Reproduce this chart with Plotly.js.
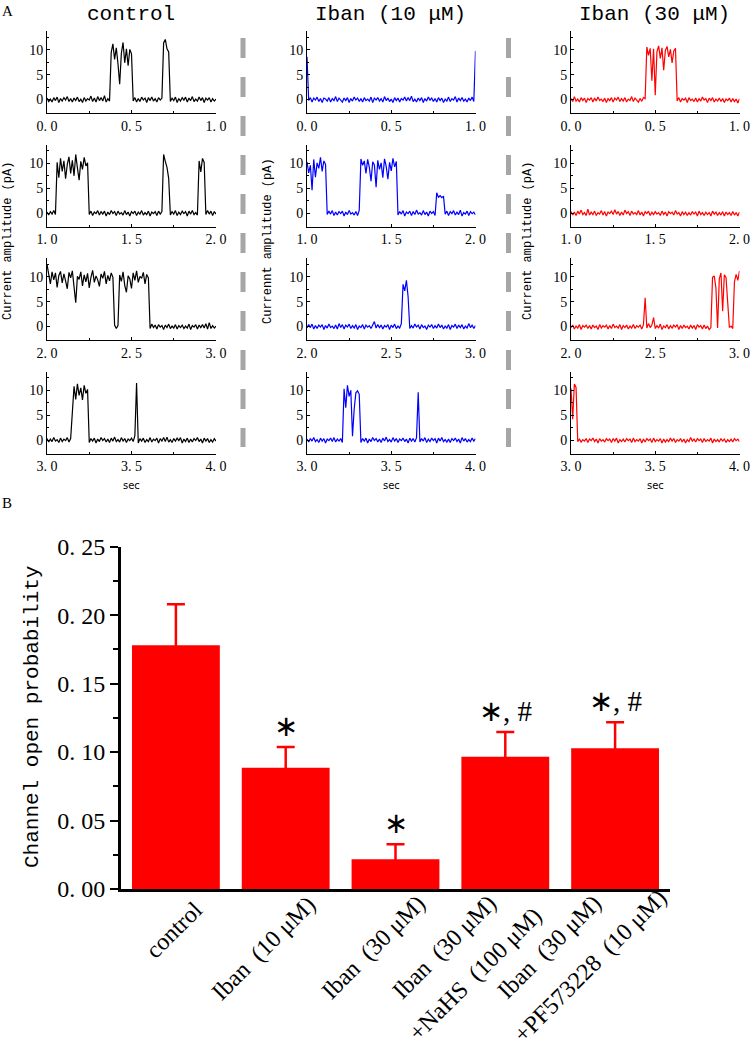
<!DOCTYPE html>
<html><head><meta charset="utf-8">
<script src="https://cdn.plot.ly/plotly-3.0.1.min.js"></script>
<style>html,body{margin:0;padding:0;background:#fff}</style>
</head><body><div id="chart" style="width:750px;height:1050px"></div>
<script>
// ---------- Panel A: single-channel traces, 0.01 s per sample, 1 s per row ----------
const ctrlRow1 = [0.3,-0.4,0.1,-0.5,0.4,-0.2,0.5,-0.6,0.2,-0.3,0.4,-0.1,0.6,-0.4,0.2,-0.5,0.3,-0.2,0.5,-0.4,0.1,-0.6,0.4,-0.3,0.2,-0.1,0.7,-0.4,0.3,-0.5,0.6,-0.2,0.4,-0.3,0.8,-0.5,0.2,-0.3,
 9.5,11.2,8.1,10.4,7.2,3.1,9.3,11.5,7.4,10.2,6.8,10.1,9.2,
 -0.3,0.4,-0.5,0.2,-0.4,0.5,-0.1,0.3,-0.6,0.4,-0.2,0.5,-0.3,0.2,-0.5,0.4,-0.1,0.3,
 11.4,12.1,10.2,9.6,
 -0.4,0.3,-0.2,0.5,-0.6,0.2,-0.3,0.4,-0.1,0.5,-0.5,0.3,-0.2,0.6,-0.4,0.1,-0.3,0.5,-0.2,0.4,-0.6,0.3,-0.1,0.4,-0.5,0.2,-0.3,0.1];
const ctrlRow2 = [0.2,-0.4,0.3,-0.2,0.5,-0.3,
 10.2,7.1,11.0,8.4,10.5,6.9,9.8,11.3,8.0,10.6,7.5,11.8,9.1,6.6,10.4,8.8,11.2,9.5,10.1,
 -0.3,0.4,-0.5,0.2,-0.1,0.5,-0.4,0.3,-0.2,0.4,-0.6,0.2,-0.3,0.5,-0.1,0.3,-0.5,0.4,-0.2,0.1,-0.4,0.5,-0.3,0.2,-0.6,0.3,-0.1,0.4,-0.5,0.2,-0.2,0.5,-0.4,0.1,-0.3,0.4,-0.6,0.2,-0.1,0.3,-0.5,0.4,-0.2,0.3,
 11.8,10.4,9.2,7.0,
 -0.4,0.3,-0.2,0.5,-0.5,0.2,-0.3,0.4,-0.1,0.3,-0.6,0.4,-0.2,0.5,-0.3,0.1,-0.4,
 10.5,8.3,11.0,10.2,
 -0.3,0.5,-0.2,0.4,-0.5,0.3,-0.2];
const ctrlRow3 = [12.5,10.2,8.6,11.0,9.4,10.8,7.9,10.3,11.1,8.8,10.6,9.2,7.6,10.9,9.8,11.2,8.4,4.8,10.1,9.5,11.0,8.2,10.4,9.0,10.7,7.8,9.9,11.3,8.9,10.2,9.4,8.1,10.6,9.7,11.1,8.6,10.3,9.2,10.8,9.9,
 0.3,-0.4,0.2,
 10.4,9.1,11.0,8.3,6.9,10.2,9.6,7.7,10.8,9.3,11.2,8.9,10.1,9.7,10.9,8.6,10.5,9.8,
 -0.4,0.5,-0.2,0.3,-0.5,0.4,-0.1,0.2,-0.6,0.3,-0.2,0.5,-0.4,0.1,-0.3,0.4,-0.5,0.2,-0.2,0.3,-0.4,0.1,-0.3,0.5,-0.6,0.2,-0.1,0.4,-0.5,0.3,-0.2,0.4,-0.3,0.6,-0.5,0.8,-0.4,0.2,-0.3,0.1];
const ctrlRow4 = [0.3,-0.4,0.2,-0.3,0.5,-0.2,0.1,-0.5,0.4,-0.3,0.2,-0.1,0.5,-0.4,0.3,
 7.0,10.8,8.2,11.3,9.0,10.5,8.1,11.0,9.4,10.2,
 -0.5,0.3,-0.2,0.4,-0.6,0.2,-0.3,0.5,-0.1,0.3,-0.4,0.2,-0.5,0.4,-0.2,0.6,-0.3,0.1,-0.4,0.5,-0.2,0.3,-0.5,0.2,-0.1,0.4,-0.3,0.9,
 11.5,
 -0.6,0.3,-0.2,0.4,-0.5,0.1,-0.3,0.5,-0.4,0.2,-0.1,0.4,-0.6,0.3,-0.2,0.5,-0.3,0.6,-0.4,0.1,-0.5,0.3,-0.2,0.4,-0.1,0.5,-0.6,0.2,-0.3,0.4,-0.5,0.2,-0.4,0.3,-0.1,0.5,-0.3,0.2,-0.6,0.4,-0.2,0.3,-0.5,0.1,-0.4,0.3,-0.2];

const ibn10Row1 = [8.6,
 -0.2,0.4,-0.5,0.3,-0.1,0.5,-0.4,0.2,-0.6,0.3,0.1,-0.3,0.4,-0.5,0.2,-0.2,0.6,-0.4,0.3,-0.1,-0.5,0.3,-0.2,0.4,-0.6,0.2,-0.3,0.5,-0.1,0.3,-0.4,0.2,-0.5,0.4,-0.2,0.1,-0.3,0.5,-0.6,0.3,-0.1,0.4,-0.3,0.2,-0.5,0.6,-0.2,0.3,-0.4,0.1,-0.6,0.4,-0.2,0.3,-0.5,0.2,-0.1,0.5,-0.3,0.4,-0.2,0.7,-0.4,0.1,-0.5,0.3,-0.2,0.4,-0.6,0.2,-0.3,0.5,-0.1,0.3,-0.4,0.2,-0.5,0.4,-0.2,0.3,-0.6,0.1,-0.3,0.5,-0.4,0.2,-0.1,0.6,-0.5,0.3,-0.2,0.4,-0.3,0.1,-0.5,0.3,-0.2,0.5,-0.4,
 9.8];
const ibn10Row2 = [10.3,8.1,9.6,4.6,10.8,7.2,10.1,9.0,11.2,8.4,10.5,9.8,
 -0.3,0.4,-0.2,0.5,-0.5,0.2,-0.4,0.3,-0.1,0.4,-0.6,0.2,-0.3,0.5,-0.2,0.1,-0.4,0.3,-0.5,0.6,
 10.9,9.6,10.5,8.0,10.8,9.2,6.4,10.3,9.7,5.2,10.6,8.8,10.1,7.1,10.9,9.4,6.8,10.2,8.5,11.0,9.3,10.4,
 -0.4,0.3,-0.2,0.5,-0.6,0.2,-0.1,0.4,-0.5,0.3,-0.3,0.6,-0.2,0.1,-0.4,0.5,-0.3,0.2,-0.6,0.4,-0.1,0.3,-0.5,
 4.1,3.2,3.5,3.1,3.4,
 -0.2,0.4,-0.5,0.3,-0.1,0.5,-0.4,0.2,-0.3,0.6,-0.6,0.1,-0.2,0.4,-0.5,0.3,-0.1,0.2,-0.4];
const ibn10Row3 = [-0.3,0.4,-0.2,0.5,-0.5,0.2,-0.4,0.3,-0.1,0.4,-0.6,0.2,-0.3,0.5,-0.2,0.1,-0.4,0.3,-0.5,0.6,-0.2,0.4,-0.5,0.3,-0.1,0.5,-0.4,0.2,-0.3,0.4,-0.6,0.1,-0.2,0.4,-0.5,0.3,-0.1,0.2,-0.4,0.5,1.0,-0.3,0.4,-0.2,0.3,-0.5,0.2,-0.1,0.4,-0.6,0.3,-0.2,0.5,-0.4,0.1,-0.3,0.6,
 8.5,7.2,9.3,6.0,
 -0.4,0.2,-0.3,0.5,-0.1,0.3,-0.5,0.4,-0.2,0.1,-0.6,0.3,-0.1,0.4,-0.4,0.2,-0.3,0.5,-0.2,0.3,-0.5,0.1,-0.3,0.4,-0.6,0.2,-0.1,0.5,-0.4,0.3,-0.2,0.4,-0.5,0.1,-0.3,0.6,-0.2,0.3,-0.4,0.2];
const ibn10Row4 = [0.2,-0.4,0.3,-0.2,0.5,-0.3,0.1,-0.5,0.4,-0.2,0.3,-0.6,0.2,-0.1,0.4,-0.3,0.5,-0.4,0.2,-0.2,0.3,-0.5,
 10.3,6.5,11.0,8.8,10.0,0.8,6.2,9.5,9.9,9.2,
 -0.5,0.3,-0.2,0.4,-0.6,0.2,-0.3,0.5,-0.1,0.3,-0.4,0.2,-0.5,0.4,-0.2,0.6,-0.3,0.1,-0.4,0.5,-0.2,0.3,-0.5,0.2,-0.1,0.4,-0.3,0.2,-0.6,0.4,-0.2,0.3,-0.4,0.5,
 9.6,
 -0.4,0.3,-0.2,0.5,-0.5,0.2,-0.3,0.4,-0.1,0.3,-0.6,0.4,-0.2,0.5,-0.3,0.1,-0.4,0.2,-0.5,0.3,-0.1,0.4,-0.3,0.2,-0.6,0.5,-0.2,0.3,-0.4,0.1,-0.3,0.4,-0.2,0.3];

const ibn30Row1 = [0.2,-0.4,0.6,-0.3,0.1,-0.5,0.4,-0.2,0.3,-0.6,0.2,-0.1,0.4,-0.5,0.3,-0.3,0.5,-0.2,0.1,-0.4,0.3,-0.6,0.2,-0.2,0.4,-0.5,0.3,-0.1,0.5,-0.4,0.2,-0.3,0.4,-0.5,0.1,-0.2,0.6,-0.4,0.3,-0.1,-0.5,0.2,-0.3,0.4,0.2,
 10.6,8.9,10.3,3.8,10.2,0.9,9.6,10.8,8.3,10.4,5.9,9.9,10.7,8.6,10.1,7.4,9.8,10.3,
 -0.3,0.4,-0.5,0.2,-0.1,0.3,-0.6,0.4,-0.2,0.1,-0.4,0.3,-0.5,0.2,-0.3,0.5,-0.1,0.2,-0.6,0.3,-0.2,0.4,-0.5,0.1,-0.3,0.3,-0.4,0.2,-0.6,0.1,-0.2,0.3,-0.5,0.2,-0.4,0.1,-0.7,0.2];
const ibn30Row2 = [0.3,-0.4,0.2,-0.5,0.4,-0.2,0.6,-0.3,0.1,-0.5,0.8,-0.4,0.2,-0.3,0.4,-0.5,0.1,-0.2,0.5,-0.4,0.3,-0.6,0.2,-0.1,0.4,-0.3,0.7,-0.2,0.3,-0.5,0.2,-0.4,0.6,-0.1,0.3,-0.5,0.4,-0.2,0.1,-0.3,0.5,-0.4,0.2,-0.6,0.3,-0.1,0.4,-0.5,0.2,-0.3,0.3,-0.2,0.1,-0.5,0.4,-0.3,0.2,-0.6,0.3,-0.1,0.2,-0.4,0.5,-0.2,0.1,-0.6,0.3,-0.3,0.2,-0.5,0.1,-0.4,0.3,-0.2,0.2,-0.6,0.4,-0.3,0.1,-0.5,0.2,-0.3,0.1,-0.6,0.4,-0.2,0.2,-0.5,0.1,-0.4,0.3,-0.6,0.2,-0.3,0.1,-0.5,0.3,-0.4,0.1,-0.6,0.2];
const ibn30Row3 = [-0.2,0.3,-0.5,0.1,-0.3,0.4,-0.6,0.2,-0.1,0.3,-0.4,0.2,-0.5,0.3,-0.2,0.1,-0.6,0.4,-0.3,0.2,-0.1,0.3,-0.5,0.2,-0.4,0.5,-0.2,0.1,-0.3,0.4,-0.6,0.2,-0.2,0.3,-0.5,0.1,-0.3,0.4,-0.4,0.2,-0.1,0.3,-0.5,0.4,
 5.8,
 -0.3,0.6,-0.2,0.3,
 1.8,
 -0.4,0.2,-0.3,0.5,-0.6,0.1,-0.2,0.4,-0.5,0.2,-0.3,0.3,-0.1,0.4,-0.6,0.2,-0.4,0.3,-0.2,0.1,-0.5,0.3,-0.3,0.2,-0.6,0.4,-0.1,0.2,-0.5,0.3,-0.4,0.1,-0.6,-0.2,
 9.9,10.2,7.8,-0.3,9.6,10.8,3.1,10.4,9.9,4.6,-0.2,0.1,-0.4,9.0,10.5,9.3,11.2];
const ibn30Row4 = [10.4,4.2,11.3,10.6,
 -0.3,0.2,-0.4,0.1,-0.2,0.3,-0.5,0.2,-0.1,0.4,-0.3,0.2,-0.6,0.3,-0.2,0.1,-0.4,0.3,-0.1,0.2,-0.5,0.3,-0.2,0.4,-0.6,0.1,-0.3,0.2,-0.4,0.3,-0.1,0.2,-0.5,0.4,-0.3,0.1,-0.2,0.3,-0.6,0.2,-0.4,0.3,-0.1,0.2,-0.5,0.4,-0.3,0.1,-0.2,0.3,-0.6,0.2,-0.4,0.1,-0.3,0.4,-0.2,0.3,-0.5,0.1,-0.2,0.3,-0.4,0.2,-0.6,0.1,-0.3,0.5,-0.2,0.2,-0.4,0.3,-0.1,0.2,-0.5,0.3,-0.3,0.1,-0.2,0.4,-0.6,0.2,-0.3,0.1,-0.4,0.3,-0.2,0.2,-0.5,0.1,-0.3,0.2,-0.4,0.3,-0.1,0.2,-0.3];

const panelTitles = ['control', 'Iban (10 μM)', 'Iban (30 μM)'];
const ampTitles = ['Current amplitude (pA)', 'Currennt amplitude (pA)', 'Current amplitude (pA)'];
const timeLabel = 'sec';
const ampTicks = [0, 5, 10];

// ---------- Panel B: channel open probability ----------
const conditionLines = [
  ['control'],
  ['Iban\u2002(10 μM)'],
  ['Iban\u2002(30 μM)'],
  ['Iban\u2002(30 μM)', '+NaHS\u2002(100 μM)'],
  ['Iban\u2002(30 μM)', '+PF573228\u2002(10 μM)']];
const openProb = [0.178, 0.0886, 0.0217, 0.0966, 0.1028];
const openProbSem = [0.030, 0.0151, 0.011, 0.0181, 0.019];
const sigMarks = ['', '∗', '∗', '∗, #', '∗, #'];
const probTicks = [0, 0.05, 0.10, 0.15, 0.20, 0.25];
const probTickText = ['0. 00', '0. 05', '0. 10', '0. 15', '0. 20', '0. 25'];
const probMinor = [0.025, 0.075, 0.125, 0.175, 0.225];
const conditions = conditionLines.map(l => l.join(' '));

// ---------- layout helpers ----------
const W = 750, H = 1050;
const fx = p => p / W, fy = p => 1 - p / H;
const colX = [[47, 216], [307, 475.5], [571, 739.5]];
const rowY = [[31, 113], [144.5, 226.5], [258, 340], [371.5, 453.5]];
const colColors = ['#000000', '#0000ff', '#ff0000'];
const traceRows = [[ctrlRow1, ctrlRow2, ctrlRow3, ctrlRow4],
                   [ibn10Row1, ibn10Row2, ibn10Row3, ibn10Row4],
                   [ibn30Row1, ibn30Row2, ibn30Row3, ibn30Row4]];
const tickFont = {family: 'Liberation Serif', size: 14, color: '#000'};
// offsets (px) of each rotated label line centre from its bar centre / the axis line
const labelOffsets = [[[-2, 41]], [[-22, 59]], [[-22, 58]], [[-61, 58], [-30, 85]], [[-66, 58], [-25, 77]]];

const data = [];
const layout = {
  width: W, height: H, margin: {l: 0, r: 0, t: 0, b: 0},
  paper_bgcolor: '#fff', plot_bgcolor: 'rgba(0,0,0,0)', showlegend: false,
  bargap: 0.2, annotations: [], shapes: []
};

for (let c = 0; c < 3; c++) {
  for (let r = 0; r < 4; r++) {
    const n = c * 4 + r + 1;
    data.push({type: 'scatter', mode: 'lines', x0: r, dx: 0.01, y: traceRows[c][r],
      xaxis: 'x' + n, yaxis: 'y' + n, line: {color: colColors[c], width: 1.2}, hoverinfo: 'skip'});
    const xt = [r, r + 0.5, r + 1];
    layout['xaxis' + n] = {
      domain: [fx(colX[c][0]), fx(colX[c][1])], anchor: 'y' + n, range: [r, r + 1],
      tickmode: 'array', tickvals: xt, ticktext: xt.map(v => v.toFixed(1).replace('.', '. ')),
      showline: true, linecolor: '#000', linewidth: 1, ticks: 'inside', ticklen: 3, tickcolor: '#000',
      minor: {tickmode: 'array', tickvals: [r + 0.25, r + 0.75], ticks: 'inside', ticklen: 2, tickcolor: '#000'},
      showgrid: false, zeroline: false, tickfont: tickFont, fixedrange: true
    };
    layout['yaxis' + n] = {
      domain: [fy(rowY[r][1]), fy(rowY[r][0])], anchor: 'x' + n, range: [-2.7, 13.8],
      tickmode: 'array', tickvals: ampTicks, ticktext: ampTicks.map(String),
      showline: true, linecolor: '#000', linewidth: 1, ticks: 'inside', ticklen: 3, tickcolor: '#000',
      minor: {tickmode: 'array', tickvals: [-2.5, 2.5, 7.5, 12.5], ticks: 'inside', ticklen: 2, tickcolor: '#000'},
      showgrid: false, zeroline: false, tickfont: tickFont, fixedrange: true
    };
  }
  layout.annotations.push({text: panelTitles[c], xref: 'paper', yref: 'paper',
    x: fx((colX[c][0] + colX[c][1]) / 2 - 1), y: fy(15), xanchor: 'center', yanchor: 'middle',
    showarrow: false, font: {family: 'Liberation Mono', size: 21, color: '#000'}});
  layout.annotations.push({text: ampTitles[c], xref: 'paper', yref: 'paper',
    x: fx([8, 268, 528][c]), y: fy(241), xanchor: 'center', yanchor: 'middle', textangle: -90,
    showarrow: false, font: {family: 'Liberation Mono', size: 12, color: '#000'}});
  layout.annotations.push({text: timeLabel, xref: 'paper', yref: 'paper',
    x: fx([131, 391, 655][c]), y: fy(485), xanchor: 'center', yanchor: 'middle',
    showarrow: false, font: {family: 'DejaVu Sans', size: 10, color: '#000'}});
}

// dashed separators
[243, 508.5].forEach(xp => layout.shapes.push({type: 'line', xref: 'paper', yref: 'paper',
  x0: fx(xp), x1: fx(xp), y0: fy(38), y1: fy(447),
  line: {color: '#a6a6a6', width: 5, dash: '20px,19px'}}));

// panel letters
layout.annotations.push({text: 'A', xref: 'paper', yref: 'paper', x: fx(7), y: fy(11),
  xanchor: 'center', yanchor: 'middle', showarrow: false, font: {family: 'Liberation Serif', size: 15, color: '#000'}});
layout.annotations.push({text: 'B', xref: 'paper', yref: 'paper', x: fx(7), y: fy(503),
  xanchor: 'center', yanchor: 'middle', showarrow: false, font: {family: 'Liberation Serif', size: 15, color: '#000'}});

// bar chart
data.push({type: 'bar', x: conditions, y: openProb, xaxis: 'x13', yaxis: 'y13',
  marker: {color: '#ff0000'}, hoverinfo: 'skip',
  error_y: {type: 'data', array: openProbSem, visible: true, color: '#ff0000', thickness: 2.5, width: 9}});
layout.xaxis13 = {domain: [fx(121), fx(670)], anchor: 'y13', type: 'category', range: [-0.5, 4.5],
  showline: true, linecolor: '#000', linewidth: 3, ticks: '', showticklabels: false,
  showgrid: false, zeroline: false, fixedrange: true};
layout.yaxis13 = {domain: [fy(889), fy(546.7)], anchor: 'x13', range: [0, 0.25],
  tickmode: 'array', tickvals: probTicks, ticktext: probTickText,
  showline: true, linecolor: '#000', linewidth: 3, ticks: 'outside', ticklen: 8, tickwidth: 2, tickcolor: '#000',
  minor: {tickmode: 'array', tickvals: probMinor, ticks: 'outside', ticklen: 5, tickwidth: 2, tickcolor: '#000'},
  showgrid: false, zeroline: false, tickfont: {family: 'Liberation Serif', size: 24, color: '#000'}, fixedrange: true};
layout.annotations.push({text: 'Channel open probability', xref: 'paper', yref: 'paper',
  x: fx(32), y: fy(717), xanchor: 'center', yanchor: 'middle', textangle: -90, showarrow: false,
  font: {family: 'Liberation Mono', size: 21, color: '#000'}});

conditions.forEach((cond, i) => {
  conditionLines[i].forEach((line, k) => {
    const off = labelOffsets[i][k];
    layout.annotations.push({text: line, xref: 'x13', yref: 'paper', x: cond, y: fy(889),
      xanchor: 'center', yanchor: 'middle', xshift: off[0], yshift: -off[1], textangle: -45, showarrow: false,
      font: {family: 'Liberation Serif', size: 24, color: '#000'}});
  });
  if (sigMarks[i]) {
    layout.annotations.push({text: sigMarks[i], xref: 'x13', yref: 'y13', x: cond,
      y: openProb[i] + openProbSem[i], xanchor: 'center', yanchor: 'middle', yshift: 21, showarrow: false,
      font: {family: 'Liberation Serif', size: 29, color: '#000'}});
  }
});

Plotly.newPlot('chart', data, layout, {displayModeBar: false, staticPlot: true});
</script></body></html>
